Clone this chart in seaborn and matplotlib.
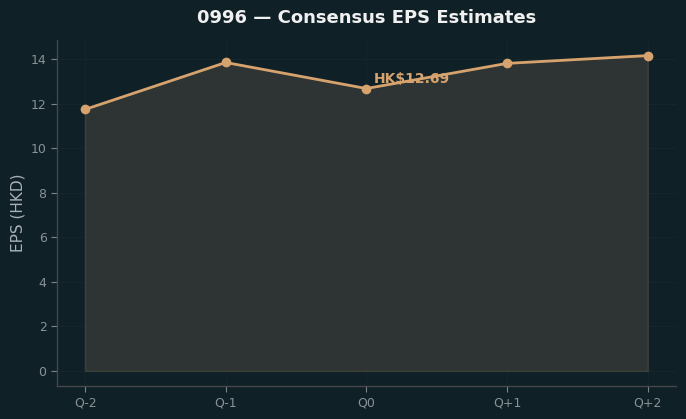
import matplotlib
matplotlib.use("Agg")
import matplotlib.pyplot as plt
import seaborn as sns
import pandas as pd

quarters = ['Q-2', 'Q-1', 'Q0', 'Q+1', 'Q+2']
eps = [11.75, 13.86, 12.69, 13.82, 14.17]
current_label = 'HK$12.69'

bg = '#0f2027'
line_col = '#d6a36e'

sns.set_style("dark")
plt.rcParams['font.family'] = ['DejaVu Sans']

d = pd.DataFrame({'quarter': quarters, 'eps': eps, 'x': range(len(quarters))})

fig = plt.figure(figsize=(6.86, 4.19), dpi=100, facecolor=bg)
ax = fig.add_axes([0.083, 0.079, 0.902, 0.826])
ax.set_facecolor(bg)

ax.fill_between(d['x'], d['eps'], 0, facecolor='#2e3334',
                edgecolor='#3b3e37', linewidth=1.2, zorder=1)
sns.lineplot(data=d, x='x', y='eps', ax=ax, color=line_col, linewidth=2,
             marker='o', markersize=7, markeredgewidth=0, zorder=3)

# label sits under the line, as in the original
ax.annotate(current_label, (2, eps[2]), xytext=(5, 4), textcoords='offset points',
            color=line_col, fontsize=10, fontweight='bold', zorder=2)

ax.set_xticks(d['x'])
ax.set_xticklabels(quarters)
ax.set_xlim(-0.2, 4.2)
ax.set_ylim(-0.68, 14.88)
ax.set_xlabel('')
ax.set_ylabel('EPS (HKD)', color='#a9b1b5', fontsize=11)
ax.set_title('0996 — Consensus EPS Estimates', color='#f0f0f0', fontsize=13,
             fontweight='bold', pad=12)

ax.grid(True, color='#15252c', linewidth=0.8)
ax.set_axisbelow(True)
ax.tick_params(colors='#7d8589', labelcolor='#8a9296', labelsize=9, length=4, width=0.8,
               bottom=True, left=True)
for side in ['top', 'right']:
    ax.spines[side].set_visible(False)
for side in ['left', 'bottom']:
    ax.spines[side].set_color('#45484a')
    ax.spines[side].set_linewidth(1)

fig.savefig('out.png', dpi=100, facecolor=bg)
